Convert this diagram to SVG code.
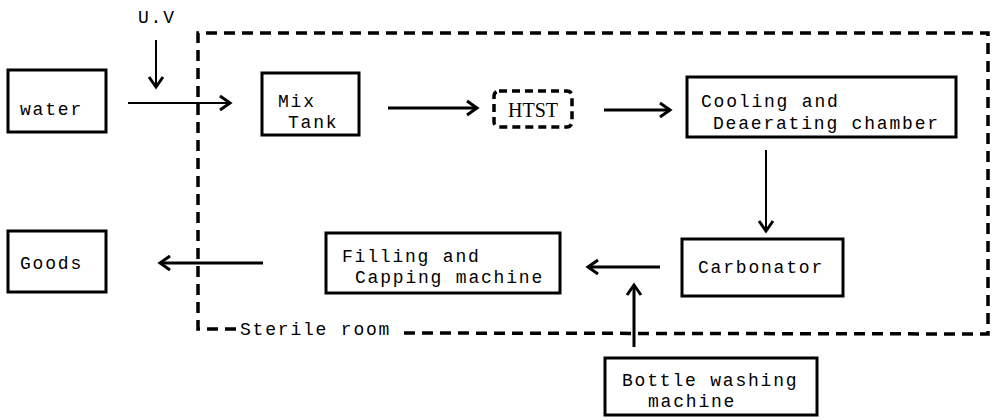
<svg xmlns="http://www.w3.org/2000/svg" width="993" height="420" viewBox="0 0 993 420">
<style>
.box{fill:none;stroke:#000;stroke-width:3}
.t{font-family:"Liberation Mono","DejaVu Sans Mono",monospace;font-size:18px;letter-spacing:1.8px;fill:#000}
.serif{font-family:"Liberation Serif","Times New Roman",serif;font-size:20px;fill:#000}
.ar{fill:none;stroke:#000;stroke-width:3;marker-end:url(#ah)}
.thin{stroke-width:2}
.dash{fill:none;stroke:#000;stroke-width:3.5;stroke-dasharray:11 7}
</style>
<defs>
<marker id="ah" markerUnits="userSpaceOnUse" markerWidth="30" markerHeight="30" refX="0" refY="0" orient="auto" overflow="visible">
<path d="M -10,-7 L 0,0 L -10,7" fill="none" stroke="#000" stroke-width="3"/>
</marker>
</defs>
<rect width="993" height="420" fill="#fff"/>
<g id="sterile-room">
<path class="dash" d="M 236,329 L 198,329 L 198,33 L 988,33 L 988,334 L 402,333"/>
<text class="t" x="240" y="335">Sterile room</text>
</g>
<g id="uv"><text class="t" x="138" y="23">U.V</text></g>
<g id="water"><rect class="box" x="8" y="70" width="98" height="62"/><text class="t" x="20" y="115">water</text></g>
<g id="mix-tank"><rect class="box" x="262" y="73" width="97" height="62"/><text class="t" x="278" y="107">Mix</text><text class="t" x="288" y="128">Tank</text></g>
<g id="htst"><rect x="494" y="91" width="78" height="36" rx="5" fill="none" stroke="#000" stroke-width="3.5" stroke-dasharray="8 5"/><text class="serif" x="533" y="117" text-anchor="middle">HTST</text></g>
<g id="cooling"><rect class="box" x="687" y="77" width="269" height="60"/><text class="t" x="701" y="107">Cooling and</text><text class="t" x="713" y="129">Deaerating chamber</text></g>
<g id="carbonator"><rect class="box" x="682" y="239" width="161" height="57"/><text class="t" x="698" y="273">Carbonator</text></g>
<g id="filling"><rect class="box" x="326" y="233" width="234" height="60"/><text class="t" x="342" y="262">Filling and</text><text class="t" x="355" y="283">Capping machine</text></g>
<g id="goods"><rect class="box" x="8" y="231" width="98" height="61"/><text class="t" x="20" y="269">Goods</text></g>
<g id="bottle"><rect class="box" x="605" y="358" width="212" height="57"/><text class="t" x="622" y="386">Bottle washing</text><text class="t" x="648" y="407">machine</text></g>
<g id="connectors">
<path class="ar thin" d="M 156,40 L 156,87"/>
<path class="ar thin" d="M 128,103 L 230,103"/>
<path class="ar" d="M 388,108 L 477,108"/>
<path class="ar" d="M 604,110 L 670,110"/>
<path class="ar thin" d="M 766,150 L 766,231"/>
<path class="ar" d="M 660,267 L 588,267"/>
<path class="ar" d="M 634,347 L 634,285"/>
<path class="ar" d="M 263,263 L 160,263"/>
</g>
</svg>
